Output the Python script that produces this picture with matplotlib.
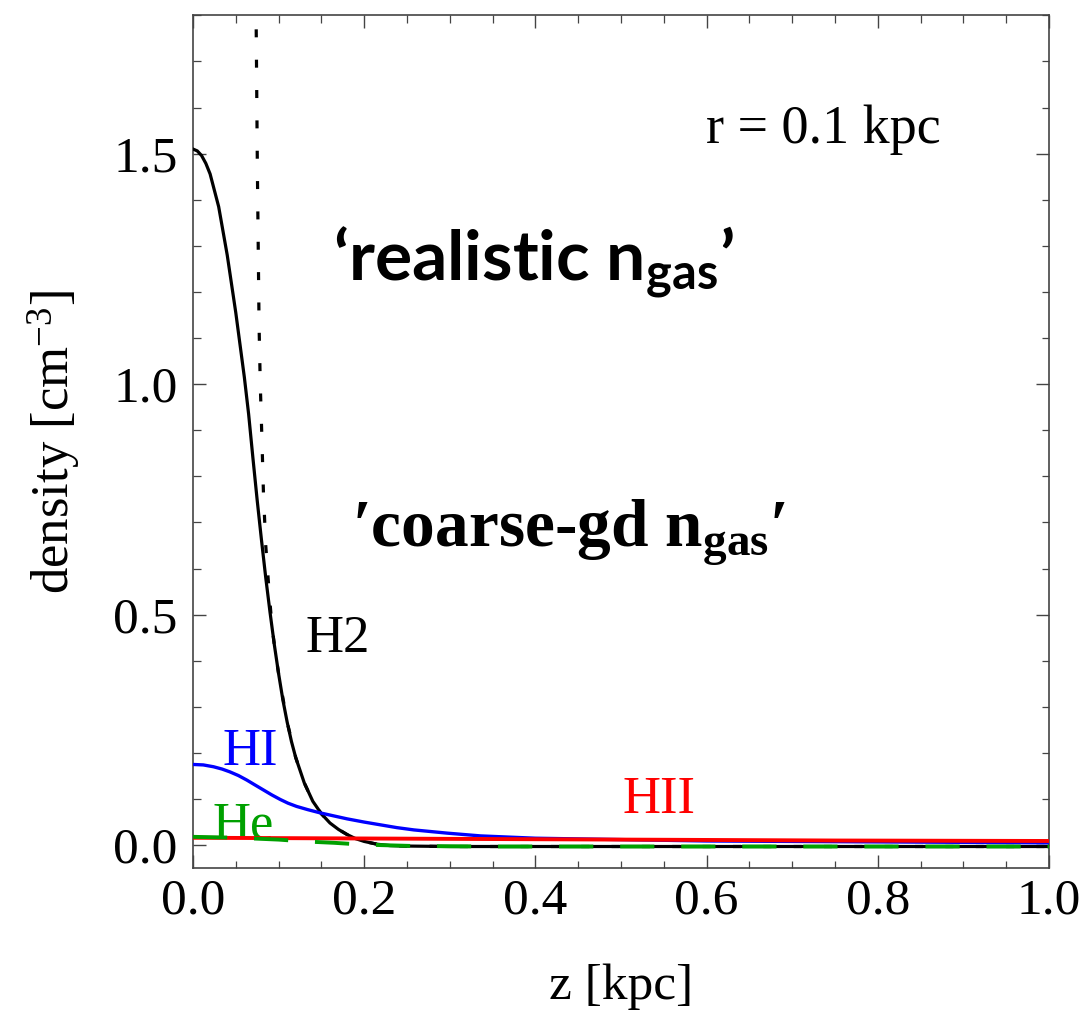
import matplotlib
matplotlib.use("Agg")
import matplotlib.pyplot as plt
from matplotlib.ticker import MultipleLocator

# ---------------- data ----------------
z_h2 = [0.0, 0.005, 0.01, 0.015, 0.02, 0.03, 0.04, 0.05, 0.06, 0.065, 0.07, 0.075, 0.08,
        0.085, 0.09, 0.095, 0.10, 0.105, 0.11, 0.115, 0.12, 0.13, 0.14, 0.15,
        0.16, 0.17, 0.18, 0.19, 0.20, 0.215, 0.23, 0.25, 0.30, 0.50, 0.75, 1.0]
n_h2 = [1.51, 1.506, 1.496, 1.479, 1.456, 1.385, 1.28, 1.155, 1.015, 0.935, 0.84, 0.748, 0.662,
        0.58, 0.505, 0.435, 0.372, 0.315, 0.267, 0.225, 0.19, 0.135, 0.095, 0.068,
        0.048, 0.034, 0.023, 0.014, 0.008, 0.002, -0.001, -0.002, -0.003, -0.003, -0.003, -0.003]

z_cg = [0.0735, 0.0744, 0.0752, 0.0762, 0.0772, 0.0786, 0.0803, 0.0823, 0.0850,
        0.0885, 0.092, 0.095, 0.10, 0.11, 0.12, 0.13, 0.14, 0.15, 0.16, 0.17,
        0.18, 0.19, 0.20, 0.215, 0.23, 0.25, 0.30, 1.0]
n_cg = [1.85, 1.65, 1.47, 1.30, 1.127, 1.00, 0.895, 0.765, 0.65,
        0.56, 0.48, 0.435, 0.372, 0.267, 0.19, 0.135, 0.095, 0.068, 0.048, 0.034,
        0.023, 0.014, 0.008, 0.002, -0.001, -0.002, -0.003, -0.003]

z_hi = [0.0, 0.012, 0.024, 0.034, 0.043, 0.053, 0.063, 0.072, 0.082, 0.092, 0.102,
        0.111, 0.121, 0.134, 0.1485, 0.163, 0.18, 0.20, 0.219, 0.238, 0.258, 0.297,
        0.336, 0.40, 0.50, 0.60, 0.80, 1.0]
n_hi = [0.175, 0.174, 0.170, 0.165, 0.159, 0.151, 0.141, 0.131, 0.120, 0.109, 0.099,
        0.091, 0.084, 0.077, 0.070, 0.064, 0.057, 0.050, 0.044, 0.038, 0.033, 0.026,
        0.020, 0.015, 0.012, 0.009, 0.007, 0.005]

z_hii = [0.0, 0.25, 0.5, 0.75, 1.0]
n_hii = [0.016, 0.014, 0.012, 0.010, 0.009]

z_he = [0.0, 0.05, 0.10, 0.13, 0.165, 0.19, 0.22, 0.26, 0.35, 0.5, 0.75, 1.0]
n_he = [0.018, 0.016, 0.012, 0.008, 0.005, 0.002, 0.0, -0.002, -0.003, -0.003, -0.003, -0.003]

x_ticks = [0.0, 0.2, 0.4, 0.6, 0.8, 1.0]
y_ticks = [0.0, 0.5, 1.0, 1.5]

# ---------------- style ----------------
plt.rcParams["font.family"] = ["Liberation Serif", "DejaVu Serif"]
plt.rcParams["mathtext.fontset"] = "custom"
plt.rcParams["mathtext.rm"] = "Liberation Serif"
plt.rcParams["mathtext.it"] = "Liberation Serif:italic"
plt.rcParams["mathtext.bf"] = "Liberation Serif:bold"
plt.rcParams["mathtext.sf"] = "Lato:bold"

fig = plt.figure(figsize=(10.86, 10.25), dpi=100)
ax = fig.add_axes([0.1777, 0.153, 0.966 - 0.1777, 0.985 - 0.153])

ax.plot(z_h2, n_h2, color="black", lw=2.3, zorder=3)
ax.plot(z_cg, n_cg, color="black", lw=2.3, linestyle=(0, (2.5, 7.0)), zorder=3)
ax.plot(z_hi, n_hi, color="#0000ff", lw=2.4, zorder=4)
ax.plot(z_hii, n_hii, color="#ff0000", lw=2.8, zorder=5)
ax.plot(z_he, n_he, color="#00a000", lw=2.8, linestyle=(0, (8.8, 6.9)), zorder=6)

ax.set_xlim(0, 1.0)
ax.set_ylim(-0.05, 1.8)
ax.set_xticks(x_ticks)
ax.set_xticklabels([f"{v:.1f}" for v in x_ticks])
ax.set_yticks(y_ticks)
ax.set_yticklabels([f"{v:.1f}" for v in y_ticks])
ax.xaxis.set_minor_locator(MultipleLocator(0.05))
ax.yaxis.set_minor_locator(MultipleLocator(0.1))

ax.tick_params(which="both", direction="in", top=True, right=True, color="#444444")
ax.tick_params(which="major", length=9.5, width=1.0, labelsize=37)
ax.tick_params(which="minor", length=5.4, width=0.9)
ax.tick_params(axis="x", which="major", pad=7)
ax.tick_params(axis="y", which="major", pad=11)
for s in ax.spines.values():
    s.set_color("#444444")
    s.set_linewidth(1.2)

ax.set_xlabel("z [kpc]", fontsize=37, labelpad=28)
ax.set_ylabel("density [cm$^{-3}$]", fontsize=38, labelpad=22)

# ---------------- annotations ----------------
ax.text(0.131, 0.42, "H2", fontsize=38, color="black", ha="left", va="baseline")
ax.text(0.034, 0.174, "HI", fontsize=38, color="#0000ff", ha="left", va="baseline")
ax.text(0.023, 0.015, "He", fontsize=38, color="#00a000", ha="left", va="baseline")
ax.text(0.502, 0.070, "HII", fontsize=38, color="#ff0000", ha="left", va="baseline")
ax.text(0.599, 1.524, "r = 0.1 kpc", fontsize=39, color="black", ha="left", va="baseline")

ax.text(0.164, 1.228, "\u2018realistic n$_{\\mathsf{gas}}$\u2019", fontsize=50,
        family=["Lato", "DejaVu Sans"], fontweight="bold", color="black",
        ha="left", va="baseline")
ax.text(0.186, 0.648, "\u2032coarse-gd n$_{\\mathbf{gas}}$\u2032", fontsize=48.5,
        family=["Liberation Serif", "DejaVu Serif"], fontweight="bold", color="black",
        ha="left", va="baseline")

fig.savefig("out.png", dpi=100)
